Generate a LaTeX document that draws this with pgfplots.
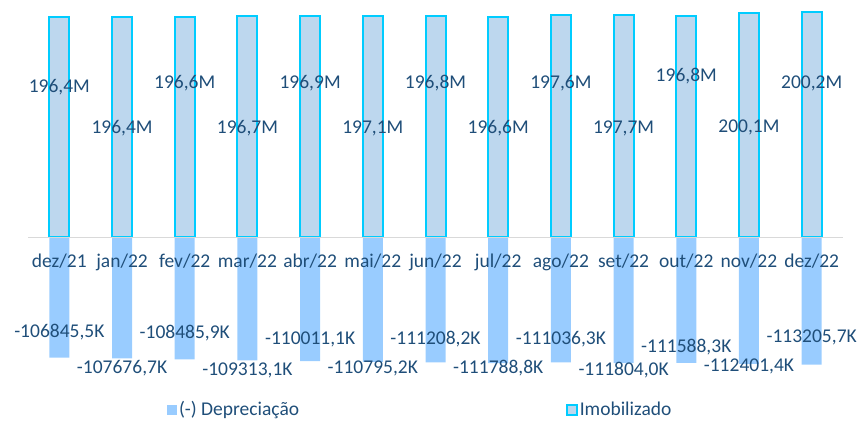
\documentclass[border=0pt]{standalone}
\usepackage{fontspec}
\setmainfont{Carlito}
\usepackage{pgfplots}
\usepackage{pgfplotstable}
\pgfplotsset{compat=1.18}
\definecolor{imobfill}{HTML}{BDD7EE}
\definecolor{imobdraw}{HTML}{00CCFF}
\definecolor{depfill}{HTML}{99CCFF}
\definecolor{txt}{HTML}{1F4E79}
\definecolor{axgray}{HTML}{D9D9D9}

\pgfplotstableread{
x imob dep
0 196.4 -106.8455
1 196.4 -107.6767
2 196.6 -108.4859
3 196.7 -109.3131
4 196.9 -110.0111
5 197.1 -110.7952
6 196.8 -111.2082
7 196.6 -111.7888
8 197.6 -111.0363
9 197.7 -111.8040
10 196.8 -111.5883
11 200.1 -112.4014
12 200.2 -113.2057
}\bars

\pgfplotstableread{
x y lab
0 134.1 196,4M
1 97.4 196,4M
2 137.4 196,6M
3 97.4 196,7M
4 137.4 196,9M
5 97.4 197,1M
6 137.4 196,8M
7 97.4 196,6M
8 137.4 197,6M
9 97.4 197,7M
10 143.7 196,8M
11 98.3 200,1M
12 137.4 200,2M
}\imoblab

\pgfplotstableread{
x y lab
0 -84.1 -106845,5K
1 -116.4 -107676,7K
2 -84.7 -108485,9K
3 -117.9 -109313,1K
4 -90.6 -110011,1K
5 -116.4 -110795,2K
6 -90.3 -111208,2K
7 -116.1 -111788,8K
8 -90.3 -111036,3K
9 -117.9 -111804,0K
10 -97.4 -111588,3K
11 -114.3 -112401,4K
12 -88.5 -113205,7K
}\deplab

\begin{document}
\fontsize{19.5bp}{23bp}\selectfont
\begin{tikzpicture}
\useasboundingbox (0,0) rectangle (861bp,421bp);
\begin{axis}[
  at={(28bp,0)}, anchor=south west,
  scale only axis,
  width=815bp, height=421bp,
  xmin=-0.5, xmax=12.5,
  ymin=-163.3, ymax=211.3,
  axis x line=middle,
  axis y line=none,
  axis on top,
  axis line style={-, draw=axgray, line width=1.8bp},
  xtick={0,...,12},
  xticklabels={dez/21,jan/22,fev/22,mar/22,abr/22,mai/22,jun/22,jul/22,ago/22,set/22,out/22,nov/22,dez/22},
  major tick length=0pt,
  xticklabel style={font=\fontsize{19.5bp}{23bp}\selectfont, text=txt, yshift=-10bp},
  clip=false,
  legend columns=2,
  legend style={draw=none, fill=none, inner sep=0pt, outer sep=0pt,
    at={(axis description cs:0.1706,0.0261)}, anchor=west,
    font=\fontsize{19.5bp}{23bp}\selectfont, text=txt,
    /tikz/every even column/.append style={column sep=265bp}},
  legend cell align=left,
]
\addplot[ybar, bar width=20bp, bar shift=0pt, fill=depfill, draw=none,
  legend image code/.code={\fill[depfill] (0bp,-5bp) rectangle (10bp,5bp);}]
  table[x=x, y=dep] {\bars};
\addlegendentry{(-) Depreciação}
\addplot[ybar, bar width=20bp, bar shift=0pt, fill=imobfill, draw=imobdraw, line width=2bp,
  legend image code/.code={\draw[fill=imobfill, draw=imobdraw, line width=1.6bp] (0bp,-5bp) rectangle (10bp,5bp);}]
  table[x=x, y=imob] {\bars};
\addlegendentry{Imobilizado}
\addplot[forget plot, draw=none, mark=none, point meta=explicit symbolic,
  nodes near coords,
  every node near coord/.style={anchor=center, text=txt, inner sep=0pt, font=\fontsize{19.5bp}{23bp}\selectfont}]
  table[x=x, y=y, meta=lab] {\imoblab};
\addplot[forget plot, draw=none, mark=none, point meta=explicit symbolic,
  nodes near coords,
  every node near coord/.style={anchor=center, text=txt, inner sep=0pt, font=\fontsize{19.5bp}{23bp}\selectfont}]
  table[x=x, y=y, meta=lab] {\deplab};
\end{axis}
\end{tikzpicture}
\end{document}
